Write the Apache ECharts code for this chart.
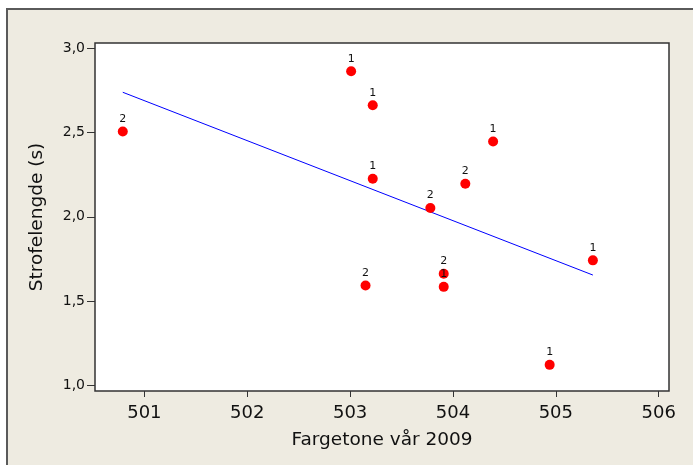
<!DOCTYPE html>
<html>
<head>
<meta charset="utf-8">
<script src="https://cdn.jsdelivr.net/npm/echarts@6/dist/echarts.min.js"></script>
<style>
  html, body { margin: 0; padding: 0; background: #fff; }
  #frame {
    position: absolute; left: 6px; top: 8px; right: 0; bottom: 0;
    background: #eeebe1;
    border-left: 2px solid #5a5a5a;
    border-top: 2px solid #5a5a5a;
  }
  #chart { position: absolute; left: 0; top: 0; width: 693px; height: 465px; }
</style>
</head>
<body>
<div id="frame"></div>
<div id="chart"></div>
<script>
// fargetone (x), strofelengde (y) og gruppe-etikett for hvert punkt
var fargetone = [500.79, 503.01, 503.22, 503.22, 503.78, 504.12, 504.39, 503.15, 503.91, 503.91, 504.94, 505.36]
var strofelengde = [2.506, 2.863, 2.661, 2.226, 2.052, 2.196, 2.446, 1.593, 1.663, 1.585, 1.123, 1.742]
var gruppe = ['2', '1', '1', '1', '2', '2', '1', '2', '2', '1', '1', '1']

// regresjonslinje (endepunkter)
var fitX = [500.79, 505.36]
var fitY = [2.738, 1.655]

var xTicks = [501, 502, 503, 504, 505, 506]
var yTicks = [1.0, 1.5, 2.0, 2.5, 3.0]

var points = fargetone.map(function (x, i) {
  return [x, strofelengde[i], gruppe[i]]
})
var fit = fitX.map(function (x, i) { return [x, fitY[i]] })

var font = '"DejaVu Sans", sans-serif'

var myChart = echarts.init(document.getElementById('chart'))
myChart.setOption({
  animation: false,
  backgroundColor: 'transparent',
  textStyle: { fontFamily: font },
  grid: {
    left: 95,
    top: 43,
    right: 24,
    bottom: 74,
    show: true,
    backgroundColor: '#fff',
    borderColor: '#333',
    borderWidth: 1.5
  },
  xAxis: {
    type: 'value',
    min: 500.52,
    max: 506.1,
    name: 'Fargetone vår 2009',
    nameLocation: 'middle',
    nameGap: 40,
    nameTextStyle: { fontSize: 18.5, color: '#111', fontFamily: font },
    axisLine: { show: false },
    splitLine: { show: false },
    axisTick: {
      show: true, customValues: xTicks, length: 6,
      lineStyle: { color: '#333', width: 1 }
    },
    axisLabel: {
      customValues: xTicks, fontSize: 18, color: '#111', margin: 13,
      fontFamily: font
    }
  },
  yAxis: {
    type: 'value',
    min: 0.968,
    max: 3.03,
    name: 'Strofelengde (s)',
    nameLocation: 'middle',
    nameGap: 48,
    nameTextStyle: { fontSize: 18.5, color: '#111', fontFamily: font },
    axisLine: { show: false },
    splitLine: { show: false },
    axisTick: {
      show: true, customValues: yTicks, length: 8,
      lineStyle: { color: '#333', width: 1 }
    },
    axisLabel: {
      customValues: yTicks, fontSize: 14, color: '#111', margin: 10,
      fontFamily: font,
      formatter: function (v) { return v.toFixed(1).replace('.', ',') }
    }
  },
  series: [
    {
      type: 'line',
      data: fit,
      symbol: 'none',
      silent: true,
      lineStyle: { color: '#0000ff', width: 1 },
      z: 1
    },
    {
      type: 'scatter',
      data: points,
      symbol: 'circle',
      symbolSize: 10,
      itemStyle: { color: '#ff0000', opacity: 1 },
      label: {
        show: true,
        position: 'top',
        distance: 2,
        fontSize: 11,
        color: '#111',
        fontFamily: font,
        formatter: function (p) { return p.value[2] }
      },
      z: 2
    }
  ]
})
</script>
</body>
</html>
